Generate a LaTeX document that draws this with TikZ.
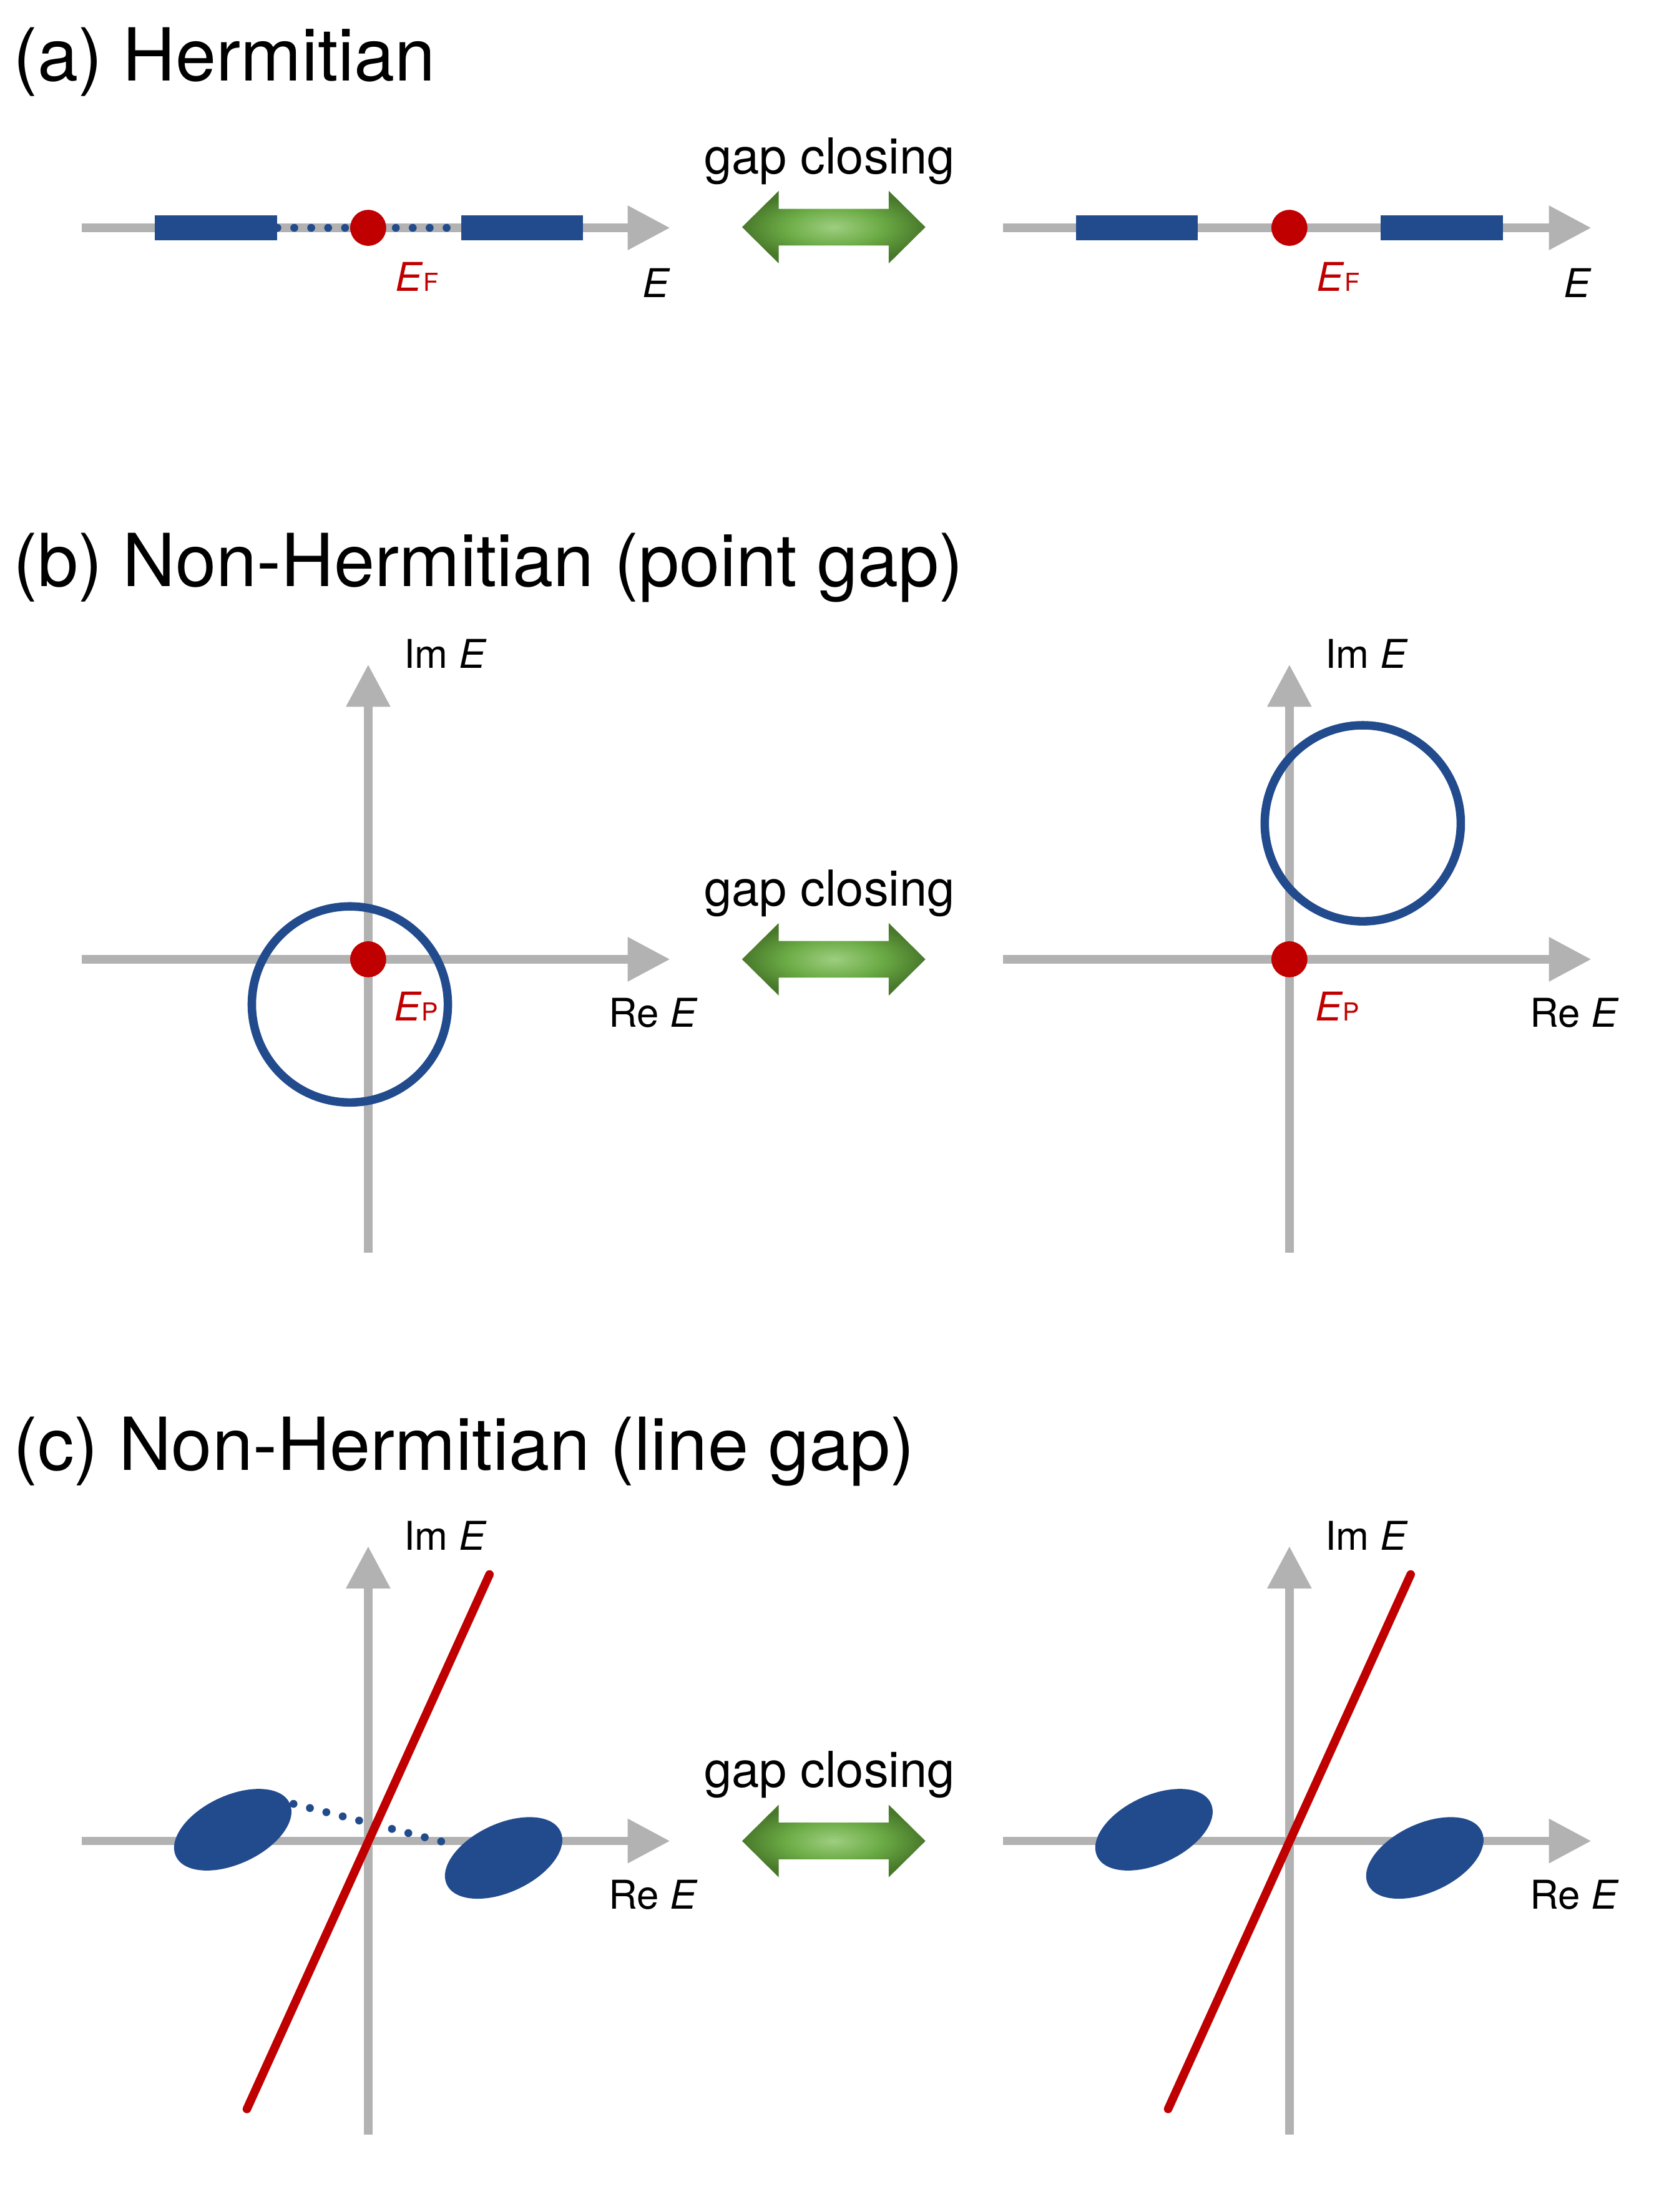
\documentclass[tikz,border=0pt]{standalone}
\usepackage{fontspec}
\setmainfont{TeX Gyre Heros}
\usetikzlibrary{arrows.meta,shapes.geometric}

\definecolor{axisgray}{RGB}{178,178,178}
\definecolor{bandblue}{RGB}{34,75,141}
\definecolor{fermired}{RGB}{192,0,0}
\definecolor{arrowdark}{RGB}{72,120,42}
\definecolor{arrowmid}{RGB}{108,172,70}
\definecolor{arrowlight}{RGB}{158,206,128}
\pgfdeclareradialshading{gapshade}{\pgfpoint{0bp}{0bp}}{%
  color(0bp)=(arrowlight); color(13bp)=(arrowmid); color(25bp)=(arrowdark); color(50bp)=(arrowdark)}
\newcommand{\subtxt}[1]{{\fontsize{10}{12}\selectfont #1}}

\begin{document}
\begin{tikzpicture}[
    x=0.02cm, y=-0.02cm,
    title/.style={anchor=base west, inner sep=0, font=\fontsize{29.5}{36}\selectfont},
    lbl/.style={inner sep=0, font=\fontsize{16}{19}\selectfont},
    gaplbl/.style={anchor=base, inner sep=0, font=\fontsize{20}{24}\selectfont},
    axis/.style={draw=axisgray, line width=0.12cm, -{Triangle[length=0.6cm, width=0.6cm]}},
    band/.style={rectangle, fill=bandblue, minimum width=1.73cm, minimum height=0.354cm, inner sep=0},
    blob/.style={ellipse, fill=bandblue, minimum width=1.78cm, minimum height=0.97cm, inner sep=0, rotate=25},
    ring/.style={circle, draw=bandblue, line width=0.12cm, minimum size=2.78cm, inner sep=0},
    fermi/.style={circle, fill=fermired, minimum size=0.51cm, inner sep=0},
    gapdots/.style={draw=bandblue, line width=0.112cm, line cap=round, dash pattern=on 0pt off 0.24cm},
    cutline/.style={draw=fermired, line width=0.12cm, line cap=round},
    swap/.style={shading=gapshade},
]
\useasboundingbox (0,0) rectangle (1176,1568);

% origins of the six panels
\coordinate (oA1) at (261,161.5);
\coordinate (oA2) at (914,161.5);
\coordinate (oB1) at (261,680);
\coordinate (oB2) at (914,680);
\coordinate (oC1) at (261,1305);
\coordinate (oC2) at (914,1305);

% titles
\node[title] (tA) at (9,57.5) {(a) Hermitian};
\node[title] (tB) at (9,415.5) {(b) Non-Hermitian (point gap)};
\node[title] (tC) at (9,1042) {(c) Non-Hermitian (line gap)};

% gap closing arrows
\foreach \y/\n in {161/A, 680/B, 1305/C} {
  \shade[swap] (526,\y) -- (552,\y-25.7) -- (552,\y-13) -- (630,\y-13) -- (630,\y-25.7)
    -- (656,\y) -- (630,\y+25.7) -- (630,\y+13) -- (552,\y+13) -- (552,\y+25.7) -- cycle;
  \node[gaplbl] (gap\n) at (588,\y-38) {gap closing};
}

% (a) Hermitian
\draw[axis] ([xshift=-4.06cm]oA1) -- ([xshift=4.28cm]oA1);
\draw[axis] ([xshift=-4.06cm]oA2) -- ([xshift=4.28cm]oA2);
\node[band] (bandL1) at (153,161.5) {};
\node[band] (bandR1) at (370,161.5) {};
\node[band] (bandL2) at (806,161.5) {};
\node[band] (bandR2) at (1022,161.5) {};
\draw[gapdots] (bandL1.east) -- (bandR1.west);
\node[fermi] (EF1) at (oA1) {};
\node[fermi] (EF2) at (oA2) {};
\node[lbl, anchor=base west, text=fermired] (EFlab1) at (280,206.6) {\textit{E}\subtxt{F}};
\node[lbl, anchor=base west, text=fermired] (EFlab2) at (933,206.6) {\textit{E}\subtxt{F}};
\node[lbl, anchor=base west] (Elab1) at (455,210.6) {\textit{E}};
\node[lbl, anchor=base west] (Elab2) at (1108,210.6) {\textit{E}};

% (b) point gap
\draw[axis] ([xshift=-4.06cm]oB1) -- ([xshift=4.28cm]oB1);
\draw[axis] ([yshift=-4.16cm]oB1) -- ([yshift=4.18cm]oB1);
\draw[axis] ([xshift=-4.06cm]oB2) -- ([xshift=4.28cm]oB2);
\draw[axis] ([yshift=-4.16cm]oB2) -- ([yshift=4.18cm]oB2);
\node[ring] (loop1) at (248,712) {};
\node[ring] (loop2) at (966,583.6) {};
\node[fermi] (EP1) at (oB1) {};
\node[fermi] (EP2) at (oB2) {};
\node[lbl, anchor=base west, text=fermired] (EPlab1) at (279,723.5) {\textit{E}\subtxt{P}};
\node[lbl, anchor=base west, text=fermired] (EPlab2) at (932,723.5) {\textit{E}\subtxt{P}};
\node[lbl, anchor=base west] (ImB1) at (286,473.7) {Im \textit{E}};
\node[lbl, anchor=base west] (ImB2) at (939,473.7) {Im \textit{E}};
\node[lbl, anchor=base east] (ReB1) at (495,728) {Re \textit{E}};
\node[lbl, anchor=base east] (ReB2) at (1148,728) {Re \textit{E}};

% (c) line gap
\draw[axis] ([xshift=-4.06cm]oC1) -- ([xshift=4.28cm]oC1);
\draw[axis] ([yshift=-4.16cm]oC1) -- ([yshift=4.18cm]oC1);
\draw[axis] ([xshift=-4.06cm]oC2) -- ([xshift=4.28cm]oC2);
\draw[axis] ([yshift=-4.16cm]oC2) -- ([yshift=4.18cm]oC2);
\node[blob] (blobL1) at (165,1297) {};
\node[blob] (blobR1) at (357,1317) {};
\node[blob] (blobL2) at (818,1297) {};
\node[blob] (blobR2) at (1010,1317) {};
\draw[gapdots, shorten <=0.05cm, shorten >=0.22cm] (blobL1.east) -- (blobR1.140);
\draw[cutline] ([xshift=-1.72cm, yshift=-3.8cm]oC1) -- ([xshift=1.72cm, yshift=3.78cm]oC1);
\draw[cutline] ([xshift=-1.72cm, yshift=-3.8cm]oC2) -- ([xshift=1.72cm, yshift=3.78cm]oC2);
\node[lbl, anchor=base west] (ImC1) at (286,1098.7) {Im \textit{E}};
\node[lbl, anchor=base west] (ImC2) at (939,1098.7) {Im \textit{E}};
\node[lbl, anchor=base east] (ReC1) at (495,1353) {Re \textit{E}};
\node[lbl, anchor=base east] (ReC2) at (1148,1353) {Re \textit{E}};
\end{tikzpicture}
\end{document}
